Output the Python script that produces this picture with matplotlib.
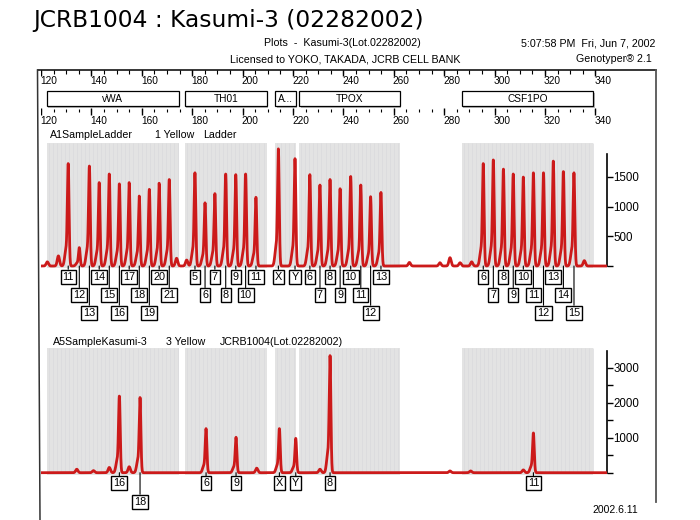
import numpy as np
import matplotlib
matplotlib.use("Agg")
import matplotlib.pyplot as plt
from matplotlib.patches import Rectangle

plt.rcParams['font.family'] = ['Liberation Sans', 'DejaVu Sans']

W, H = 700, 520

# ---------------- data ----------------
title = "JCRB1004 : Kasumi-3 (02282002)"
marker_names = ['vWA', 'TH01', 'A...', 'TPOX', 'CSF1PO']
marker_start = [122.3, 177.1, 213.0, 222.5, 287.0]
marker_end = [174.6, 209.7, 221.0, 262.5, 339.2]
scale_ticks = [120, 140, 160, 180, 200, 220, 240, 260, 280, 300, 320, 340]

vwa_alleles = ['11', '12', '13', '14', '15', '16', '17', '18', '19', '20', '21']
vwa_bp = [130.8, 135.2, 139.2, 143.1, 147.1, 151.1, 155.0, 159.0, 163.0, 166.9, 170.9]
vwa_rfu = [1670, 300, 1630, 1360, 1500, 1340, 1360, 1140, 1250, 1350, 1410]

th01_alleles = ['5', '6', '7', '8', '9', '10', '11']
th01_bp = [181.1, 185.1, 189.0, 193.3, 197.3, 201.2, 205.3]
th01_rfu = [1520, 1030, 1180, 1500, 1490, 1500, 1120]

amel_alleles = ['X', 'Y']
amel_bp = [214.2, 220.8]
amel_rfu = [1910, 1750]

tpox_alleles = ['6', '7', '8', '9', '10', '11', '12', '13']
tpox_bp = [226.7, 230.7, 234.7, 238.7, 242.9, 246.9, 250.8, 254.9]
tpox_rfu = [1490, 1320, 1410, 1260, 1460, 1320, 1130, 1200]

csf_alleles = ['6', '7', '8', '9', '10', '11', '12', '13', '14', '15']
csf_bp = [295.5, 299.5, 303.5, 307.4, 311.4, 315.4, 319.4, 323.3, 327.3, 331.5]
csf_rfu = [1670, 1730, 1580, 1500, 1450, 1520, 1520, 1710, 1540, 1520]

ladder_minor_bp = [122.5, 126.9, 173.8, 177.8, 266.2, 278.3, 282.3, 286.3, 290.9, 335.6]
ladder_minor_rfu = [70, 170, 130, 100, 60, 55, 140, 55, 70, 90]

sample_alleles = ['16', '18', '6', '9', 'X', 'Y', '8', '11']
sample_bp = [151.1, 159.3, 185.5, 197.4, 214.6, 221.1, 234.7, 315.4]
sample_rfu = [2120, 2080, 1220, 980, 1220, 950, 3240, 1100]
sample_minor_bp = [134.2, 140.8, 147.1, 155.0, 205.6, 230.7, 282.3, 290.5, 311.4]
sample_minor_rfu = [100, 60, 150, 170, 130, 100, 50, 50, 80]

# label tiers (layout of the allele call boxes)
ladder_tier = ([0, 1, 2, 0, 1, 2, 0, 1, 2, 0, 1] + [0, 1, 0, 1, 0, 1, 0] + [0, 0]
               + [0, 1, 0, 1, 0, 1, 2, 0] + [0, 1, 0, 1, 0, 1, 2, 0, 1, 2])
sample_tier = [0, 1, 0, 0, 0, 0, 0, 0]

ladder_alleles = vwa_alleles + th01_alleles + amel_alleles + tpox_alleles + csf_alleles
ladder_bp = vwa_bp + th01_bp + amel_bp + tpox_bp + csf_bp
ladder_rfu = vwa_rfu + th01_rfu + amel_rfu + tpox_rfu + csf_rfu

RED = '#cc1a1a'
XMIN, XMAX = 120.0, 344.6

fig = plt.figure(figsize=(W / 100, H / 100), dpi=100)


def px_axes(x0, y0, x1, y1):
    return fig.add_axes([x0 / W, 1 - y1 / H, (x1 - x0) / W, (y1 - y0) / H])


bg = px_axes(0, 0, W, H)
bg.set_xlim(0, W)
bg.set_ylim(H, 0)
bg.axis('off')

# title and header
bg.text(33, 26.7, title, family=['DejaVu Sans'], fontsize=16.8, va='baseline', ha='left')
bg.text(342, 46.5, "Plots  -  Kasumi-3(Lot.02282002)", fontsize=7.7, ha='center', va='baseline')
bg.text(345, 62.5, "Licensed to YOKO, TAKADA, JCRB CELL BANK", fontsize=7.7, ha='center', va='baseline')
bg.text(655, 46.5, "5:07:58 PM  Fri, Jun 7, 2002", fontsize=7.7, ha='right', va='baseline')
bg.text(652, 62.5, "Genotyper\u00ae 2.1", fontsize=7.7, ha='right', va='baseline')
bg.text(638, 513, "2002.6.11", fontsize=7.5, ha='right', va='baseline')

# frame
bg.plot([37.5, 656], [70, 70], color='black', lw=1.1)
bg.plot([37.5, 40], [70, 520], color='#333333', lw=1.1)
bg.plot([656, 656], [70, 502], color='#555555', lw=1.3)

# panel captions
bg.text(50, 138.5, "A1SampleLadder", fontsize=7.7, va='baseline')
bg.text(155, 138.5, "1 Yellow", fontsize=7.7, va='baseline')
bg.text(203, 138.5, "Ladder", fontsize=7.7, va='baseline')
bg.text(53, 345, "A5SampleKasumi-3", fontsize=7.7, va='baseline')
bg.text(166, 345, "3 Yellow", fontsize=7.7, va='baseline')
bg.text(220, 345, "JCRB1004(Lot.02282002)", fontsize=7.7, va='baseline')

# ---------------- scale (bp ruler + marker boxes) ----------------
sc = px_axes(41, 66, 607, 128)
sc.set_xlim(XMIN, XMAX)
sc.set_ylim(128, 66)
sc.axis('off')
minor = np.arange(120, 341, 5)
sc.vlines(minor, 70, 73.5, color='black', lw=0.8)
sc.vlines(scale_ticks, 70, 75.5, color='black', lw=1.0)
sc.vlines(minor, 108.5, 111.5, color='black', lw=0.8)
sc.vlines(scale_ticks, 108, 115, color='black', lw=1.0)
for t in scale_ticks:
    sc.text(t - 0.4, 84.3, str(t), fontsize=7.3, ha='left', va='baseline', clip_on=False)
    sc.text(t - 0.4, 124.3, str(t), fontsize=7.3, ha='left', va='baseline', clip_on=False)
for name, s, e in zip(marker_names, marker_start, marker_end):
    sc.add_patch(Rectangle((s + 0.5, 92.5), e - s, 15, fc='#bbbbbb', ec='none', lw=0))
    sc.add_patch(Rectangle((s, 91), e - s, 15, fc='white', ec='black', lw=0.9))
    sc.text(s + 1.2 if name == 'A...' else (s + e) / 2, 101.8, name, fontsize=7.3,
            ha='left' if name == 'A...' else 'center', va='baseline')


# ---------------- traces ----------------
def trace(x, pos, amp, mpos, mamp):
    y = np.zeros_like(x)
    for p, a in zip(pos, amp):
        y += a * np.exp(-0.5 * ((x - p) / 0.33) ** 2)
        y += 0.16 * a * np.exp(-0.5 * ((x - (p - 0.9)) / 0.5) ** 2)
    for p, a in zip(mpos, mamp):
        y += a * np.exp(-0.5 * ((x - p) / 0.45) ** 2)
    return y


xs = np.linspace(XMIN, XMAX, 9000)


def setup_panel(ax, rfu_per_px, base_px, top_px, bottom_px):
    ax.set_xlim(XMIN, XMAX)
    ax.set_ylim(-(bottom_px - base_px) * rfu_per_px, (base_px - top_px) * rfu_per_px)
    for s in ['left', 'top', 'bottom']:
        ax.spines[s].set_visible(False)
    ax.spines['right'].set_linewidth(1.2)
    ax.yaxis.tick_right()
    ax.tick_params(axis='y', which='both', direction='out', length=4.5, width=1,
                   pad=0.3, labelsize=8.3)
    ax.set_xticks([])
    ax.patch.set_alpha(0)
    for s, e in zip(marker_start, marker_end):
        ax.axvspan(s, e, color='#e3e3e3', lw=0, zorder=0)
        ax.vlines(np.arange(s + 0.8, e, 1.6), 0, ax.get_ylim()[1], color='#d9d9dc',
                  lw=0.5, zorder=0.5)


def add_labels(ax, alleles, bps, tiers, offsets):
    for a, b, t in zip(alleles, bps, tiers):
        ax.annotate(a, xy=(b, 0), xycoords='data', xytext=(0, -offsets[t]),
                    textcoords='offset pixels', ha='center', va='center', fontsize=7.8,
                    bbox=dict(boxstyle='square,pad=0.18', fc='white', ec='black', lw=1.0),
                    arrowprops=dict(arrowstyle='-', color='black', lw=0.8,
                                    shrinkA=0, shrinkB=0),
                    annotation_clip=False, zorder=5)


# top panel: ladder
ax1 = px_axes(41, 143, 607, 268)
r1 = 500 / 29.7
setup_panel(ax1, r1, 266, 143, 268)
ax1.plot(xs, trace(xs, ladder_bp, ladder_rfu, ladder_minor_bp, ladder_minor_rfu),
         color=RED, lw=2.0, zorder=3)
ax1.set_yticks([0, 500, 1000, 1500])
ax1.set_yticklabels(['', '500', '1000', '1500'])
ax1.spines['right'].set_bounds(0, 1885)
add_labels(ax1, ladder_alleles, ladder_bp, ladder_tier, [10.7, 29, 46.7])

# bottom panel: sample
ax2 = px_axes(41, 348, 607, 475)
r2 = 1000 / 35
setup_panel(ax2, r2, 472.7, 348, 475)
ax2.plot(xs, trace(xs, sample_bp, sample_rfu, sample_minor_bp, sample_minor_rfu),
         color=RED, lw=2.0, zorder=3)
ax2.set_yticks([0, 1000, 2000, 3000])
ax2.set_yticklabels(['', '1000', '2000', '3000'])
ax2.set_yticks([500, 1500, 2500], minor=True)
ax2.spines['right'].set_bounds(0, 3480)
add_labels(ax2, sample_alleles, sample_bp, sample_tier, [10.6, 29])

fig.savefig('out.png', dpi=100)
